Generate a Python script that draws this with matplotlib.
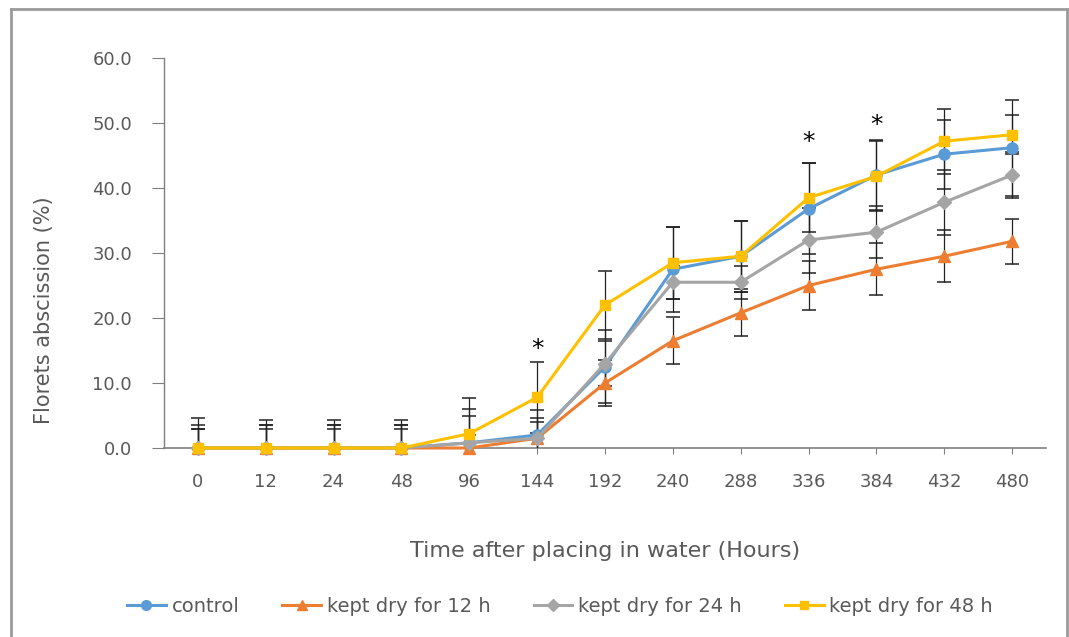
import matplotlib
matplotlib.use("Agg")
import matplotlib.pyplot as plt
from matplotlib.lines import Line2D
import numpy as np

hours = ["0", "12", "24", "48", "96", "144", "192", "240", "288", "336", "384", "432", "480"]

control = [0, 0, 0, 0, 0.8, 2.0, 12.5, 27.5, 29.5, 36.8, 42.0, 45.2, 46.2]
dry12 = [0, 0, 0, 0, 0.0, 1.5, 10.0, 16.5, 20.8, 25.0, 27.5, 29.5, 31.8]
dry24 = [0, 0, 0, 0, 0.8, 1.5, 13.0, 25.5, 25.5, 32.0, 33.2, 37.8, 42.0]
dry48 = [0, 0, 0, 0, 2.2, 7.8, 22.0, 28.5, 29.5, 38.5, 41.8, 47.2, 48.2]

control_err = [4.6, 4.3, 4.3, 4.3, 5.2, 3.8, 5.6, 6.5, 5.5, 7.0, 5.4, 5.3, 7.4]
dry12_err = [3.0, 3.0, 3.0, 3.0, 2.0, 2.5, 3.5, 3.6, 3.6, 3.8, 4.0, 4.0, 3.5]
dry24_err = [3.6, 3.6, 3.6, 3.6, 4.2, 3.1, 3.5, 2.5, 2.5, 5.0, 4.0, 5.0, 3.5]
dry48_err = [3.0, 3.5, 3.5, 3.5, 5.5, 5.5, 5.3, 5.5, 5.5, 5.3, 5.4, 5.0, 3.0]

labels = ["control", "kept dry for 12 h", "kept dry for 24 h", "kept dry for 48 h"]
colors = ["#5B9BD5", "#ED7D31", "#A5A5A5", "#FFC000"]
markers = ["o", "^", "D", "s"]
msizes = [8, 8, 7, 7]

star_idx = [5, 9, 10]
star_y = [15.3, 47.1, 49.7]

plt.rcParams['font.family'] = ['DejaVu Sans']

fig = plt.figure(figsize=(10.69, 6.37), dpi=100)
ax = fig.add_axes([164/1069, 1-448/637, (1046-164)/1069, (448-58)/637])

x = np.arange(len(hours))
series = [control, dry12, dry24, dry48]
errs = [control_err, dry12_err, dry24_err, dry48_err]
for i, (ys, e) in enumerate(zip(series, errs)):
    ax.errorbar(x, ys, yerr=e, fmt='none', ecolor='#222222', elinewidth=0.9,
                capsize=5, capthick=1.1, zorder=2 + i)
for i, ys in enumerate(series):
    ax.plot(x, ys, color=colors[i], marker=markers[i], markersize=msizes[i],
            linewidth=2.2, zorder=10 + i, clip_on=False)

for xi, yi in zip(star_idx, star_y):
    ax.text(xi, yi, "*", ha='center', va='center', fontsize=18, color='black',
            family='DejaVu Sans')

ax.set_xlim(-0.5, len(hours) - 0.5)
ax.set_ylim(0, 60)
ax.set_yticks(np.arange(0, 61, 10))
ax.set_yticklabels([f"{v:.1f}" for v in np.arange(0, 61, 10)])
ax.set_xticks(x)
ax.set_xticklabels(hours)

for s in ['top', 'right']:
    ax.spines[s].set_visible(False)
ax.spines['left'].set_color('#7f7f7f')
ax.spines['bottom'].set_color('#7f7f7f')
ax.spines['left'].set_linewidth(1.0)
ax.spines['bottom'].set_linewidth(1.2)
ax.tick_params(axis='y', direction='out', length=9, color='#7f7f7f',
               labelsize=13, labelcolor='#595959', pad=14)
ax.tick_params(axis='x', direction='out', length=4, color='#7f7f7f',
               labelsize=13, labelcolor='#595959', pad=14)

ax.set_xlabel("Time after placing in water (Hours)", fontsize=16, color='#595959', labelpad=36)
ax.set_ylabel("Florets abscission (%)", fontsize=15, color='#595959')
ax.yaxis.set_label_coords(-0.125, 0.354)

handles = [Line2D([0], [0], color=colors[i], marker=markers[i], markersize=msizes[i] - 1,
                  linewidth=2.2) for i in range(4)]
fig.legend(handles, labels, loc='center', bbox_to_anchor=(560/1069, 1-606/637),
           ncol=4, frameon=False, fontsize=14, handlelength=2.0, handletextpad=0.3,
           columnspacing=2.2, labelcolor='#595959')

# outer chart frame
fc = '#9a9a9a'
fig.add_artist(Line2D([11/1069, 11/1069], [0, 1-9/637], color=fc, linewidth=2, transform=fig.transFigure))
fig.add_artist(Line2D([11/1069, 1067/1069], [1-9/637, 1-9/637], color=fc, linewidth=2, transform=fig.transFigure))
fig.add_artist(Line2D([1067/1069, 1067/1069], [0, 1-9/637], color=fc, linewidth=2, transform=fig.transFigure))

fig.savefig("out.png", dpi=100)
